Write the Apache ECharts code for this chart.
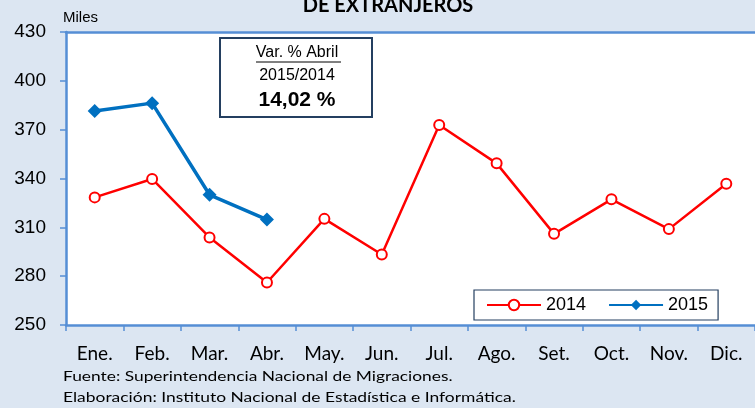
<!DOCTYPE html>
<html>
<head>
<meta charset="utf-8">
<script src="https://cdn.jsdelivr.net/npm/echarts@6/dist/echarts.min.js"></script>
<style>
  html, body { margin: 0; padding: 0; background: #dce6f2; }
  #chart { width: 755px; height: 408px; }
</style>
</head>
<body>
<div id="chart"></div>
<script>
// Monthly arrivals of foreign visitors (thousands)
const months = ['Ene.', 'Feb.', 'Mar.', 'Abr.', 'May.', 'Jun.', 'Jul.', 'Ago.', 'Set.', 'Oct.', 'Nov.', 'Dic.'];
const values2014 = [328.4, 339.7, 303.8, 276.1, 315.2, 293.3, 372.9, 349.3, 306.0, 327.2, 308.9, 336.8];
const values2015 = [381.5, 386.3, 330.0, 314.8];
const yTicks = { min: 250, max: 430, interval: 30 };

const axisBlue = '#558ed5';
const chart = echarts.init(document.getElementById('chart'));

chart.setOption({
  backgroundColor: '#dce6f2',
  animation: false,
  grid: {
    left: 66, right: -2, top: 32, bottom: 83,
    show: true, backgroundColor: '#ffffff', borderWidth: 0
  },
  legend: {
    left: 474, top: 290, width: 228, height: 35,
    padding: [6, 10, 6, 12],
    backgroundColor: '#ffffff', borderColor: '#243f60', borderWidth: 1.2,
    itemWidth: 54, itemHeight: 13, itemGap: 22,
    textStyle: { fontFamily: 'Liberation Sans', fontSize: 18, color: '#000' },
    data: ['2014', '2015']
  },
  xAxis: [{
    type: 'category',
    data: months,
    boundaryGap: true,
    axisLine: { lineStyle: { color: axisBlue, width: 2.5 } },
    axisTick: { show: true, inside: false, length: 6, lineStyle: { color: axisBlue, width: 1.5 } },
    axisLabel: { margin: 19, fontFamily: 'Lato', fontSize: 19, color: '#000' },
    splitLine: { show: false }
  }, {
    type: 'category',
    data: months,
    position: 'top',
    axisLine: { lineStyle: { color: axisBlue, width: 2.5 } },
    axisTick: { show: false },
    axisLabel: { show: false }
  }],
  yAxis: {
    type: 'value',
    min: yTicks.min, max: yTicks.max, interval: yTicks.interval,
    axisLine: { show: true, lineStyle: { color: axisBlue, width: 2.5 } },
    axisTick: { show: true, length: 6, lineStyle: { color: axisBlue, width: 1.5 } },
    axisLabel: { margin: 20, fontFamily: 'Liberation Sans', fontSize: 19, color: '#000' },
    splitLine: { show: false }
  },
  series: [{
    name: '2014',
    type: 'line',
    data: values2014,
    symbol: 'emptyCircle',
    symbolSize: 10,
    lineStyle: { color: '#ff0000', width: 2.5 },
    itemStyle: { color: '#ff0000', borderWidth: 2, borderColor: '#ff0000' },
    z: 3
  }, {
    name: '2015',
    type: 'line',
    data: values2015,
    symbol: 'diamond',
    symbolSize: 14,
    lineStyle: { color: '#0070c0', width: 3.5 },
    itemStyle: { color: '#0070c0' },
    z: 4
  }],
  graphic: [
    { type: 'text', x: 388, y: -4, style: { text: 'DE EXTRANJEROS', align: 'center', font: 'bold 20px Lato', fill: '#000' } },
    { type: 'text', left: 63, top: 10, style: { text: 'Miles', font: '15px "Liberation Sans"', fill: '#000' } },
    {
      type: 'group', left: 219, top: 37,
      children: [
        { type: 'rect', shape: { x: 0, y: 0, width: 152, height: 79 }, style: { fill: '#ffffff', stroke: '#243f60', lineWidth: 2 } },
        { type: 'text', style: { text: 'Var. % Abril', x: 77, y: 7, align: 'center', font: '16px "Liberation Sans"', fill: '#000' } },
        { type: 'line', shape: { x1: 36, y1: 24, x2: 121, y2: 24 }, style: { stroke: '#000', lineWidth: 1 } },
        { type: 'text', style: { text: '2015/2014', x: 77, y: 30, align: 'center', font: '16px "Liberation Sans"', fill: '#000' } },
        { type: 'text', style: { text: '14,02 %', x: 77, y: 52, align: 'center', font: 'bold 21px "Liberation Sans"', fill: '#000' } }
      ]
    },
    { type: 'text', x: 63, y: 369, scaleX: 1.24, style: { text: 'Fuente: Superintendencia Nacional de Migraciones.', font: '14px Lato', fill: '#000' } },
    { type: 'text', x: 63, y: 390, scaleX: 1.245, style: { text: 'Elaboración: Instituto Nacional de Estadística e Informática.', font: '14px Lato', fill: '#000' } }
  ]
});
</script>
</body>
</html>
